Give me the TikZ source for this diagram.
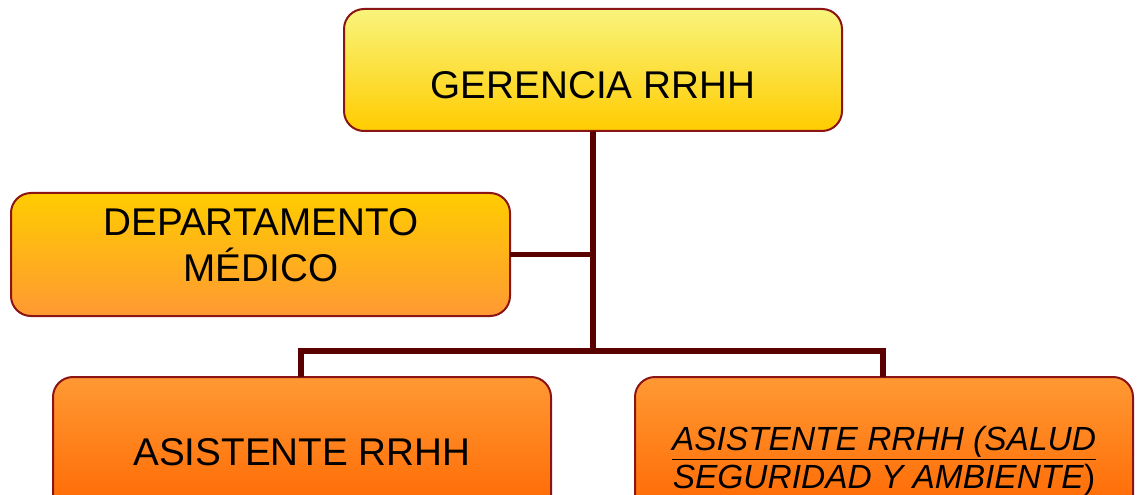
\documentclass[tikz,border=0pt]{standalone}
\usepackage{fontspec}
\setmainfont{Liberation Sans}
\definecolor{conn}{HTML}{5A0000}
\definecolor{bord}{HTML}{8B1414}
\definecolor{ylight}{HTML}{F9F47C}
\definecolor{yelmid}{HTML}{FFCC00}
\definecolor{orgmid}{HTML}{FF9933}
\definecolor{orgdark}{HTML}{FF6600}
\tikzset{
  orgbox/.style={draw=bord, line width=1.5pt, rounded corners=15pt},
  conline/.style={draw=conn, line width=4.3pt},
  lbl/.style={font=\fontsize{29}{34.5}\selectfont, align=center, text=black, inner sep=0pt},
}
\newcommand{\myul}[1]{\underline{#1}}
\begin{document}
\begin{tikzpicture}[x=0.75pt,y=-0.75pt]
\useasboundingbox (0,0) rectangle (1141,495);
% boxes
\path[orgbox, top color=ylight, bottom color=yelmid] (344,9) rectangle (842,131);
\node[lbl] (ger) at (593,85) {GERENCIA RRHH};
\path[orgbox, top color=yelmid, bottom color=orgmid] (11,193) rectangle (510,316);
\node[lbl] (dep) at (261,245) {DEPARTAMENTO\\MÉDICO};
\path[orgbox, top color=orgmid, bottom color=orgdark] (53,377) rectangle (551,520);
\node[lbl] (asi) at (302,452) {ASISTENTE RRHH};
\path[orgbox, top color=orgmid, bottom color=orgdark] (635,377) rectangle (1133,520);
\node[lbl, font=\fontsize{25.1}{28.5}\selectfont] (asi2) at (884,461)
  {\myul{\textit{ASISTENTE RRHH (SALUD}}\\\textit{SEGURIDAD Y AMBIENTE})};
% connectors
\coordinate (gb) at (593,131);
\coordinate (dr) at (510,254.5);
\coordinate (j1) at (593,254.5);
\coordinate (j2) at (593,351);
\coordinate (jl) at (301,351);
\coordinate (jr) at (883,351);
\coordinate (al) at (301,377);
\coordinate (ar) at (883,377);
\draw[conline] (gb) -- (j2);
\draw[conline] (dr) -- (j1);
\draw[conline] (al) -- (jl) -- (jr) -- (ar);
\end{tikzpicture}
\end{document}
